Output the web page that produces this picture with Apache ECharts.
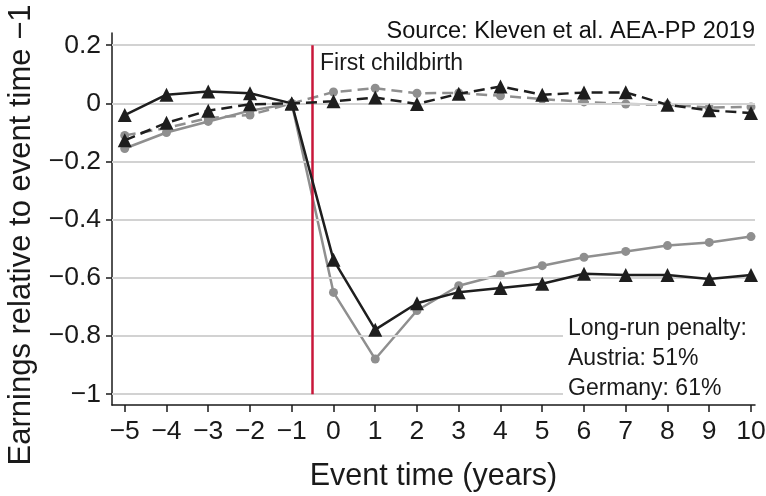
<!DOCTYPE html>
<html>
<head>
<meta charset="utf-8">
<script src="https://cdn.jsdelivr.net/npm/echarts@6/dist/echarts.min.js"></script>
<style>html,body{margin:0;padding:0;background:#fff}#c{width:766px;height:496px}</style>
</head>
<body>
<div id="c"></div>
<script>
const eventTimes = [-5,-4,-3,-2,-1,0,1,2,3,4,5,6,7,8,9,10];
const austriaWomen = [-0.155,-0.10,-0.062,-0.025,0,-0.65,-0.879,-0.712,-0.627,-0.589,-0.558,-0.529,-0.509,-0.489,-0.478,-0.458];
const germanyWomen = [-0.04,0.03,0.041,0.035,0,-0.538,-0.778,-0.687,-0.649,-0.635,-0.62,-0.586,-0.59,-0.59,-0.604,-0.59];
const austriaMen = [-0.11,-0.085,-0.05,-0.04,0,0.039,0.052,0.035,0.036,0.026,0.015,0.005,-0.002,-0.005,-0.014,-0.012];
const germanyMen = [-0.127,-0.067,-0.025,-0.003,0,0.007,0.02,-0.002,0.033,0.058,0.03,0.037,0.038,-0.005,-0.024,-0.033];
const yTicks = [0.2,0,-0.2,-0.4,-0.6,-0.8,-1];
const xTicks = [-5,-4,-3,-2,-1,0,1,2,3,4,5,6,7,8,9,10];
const childbirthTime = -0.5;
const penaltyLines = ['Long-run penalty:','Austria: 51%','Germany: 61%'];

const FONT = '"Liberation Sans", Arial, Helvetica, sans-serif';
const BLACK = '#1e1e1e', GREY = '#8f8f8f', RED = '#c8173a';
const fmt = v => (v === 0 ? '0' : String(v).replace('-', '\u2212'));
const pair = arr => eventTimes.map((t, i) => [t, arr[i]]);

function lineSeries(name, data, color, dashed, symbol, size, z) {
  return {
    name, type: 'line', data: pair(data), z,
    symbol, symbolSize: size, showSymbol: true,
    itemStyle: {color},
    lineStyle: {color, width: 2.5, type: dashed ? [11, 6] : 'solid'},
    emphasis: {disabled: true}, animation: false
  };
}

const chart = echarts.init(document.getElementById('c'), null, {renderer: 'canvas'});
chart.setOption({
  animation: false,
  backgroundColor: '#fff',
  grid: {left: 112, right: 11, top: 33, bottom: 91, containLabel: false, outerBoundsMode: 'none'},
  xAxis: {
    type: 'value', min: -5.305, max: 10.096,
    name: 'Event time (years)', nameLocation: 'middle', nameGap: 56,
    nameTextStyle: {fontFamily: FONT, fontSize: 30.5, color: '#1a1a1a'},
    axisLine: {show: true, onZero: false, lineStyle: {color: '#1a1a1a', width: 1.5}},
    axisTick: {show: true, length: 7, customValues: xTicks, lineStyle: {color: '#1a1a1a', width: 1.5}},
    axisLabel: {customValues: xTicks, formatter: fmt, fontFamily: FONT, fontSize: 26.5, color: '#1a1a1a', margin: 13},
    splitLine: {show: false}
  },
  yAxis: {
    type: 'value', min: -1.037, max: 0.242,
    axisLine: {show: true, onZero: false, lineStyle: {color: '#1a1a1a', width: 1.5}},
    axisTick: {show: true, length: 6, customValues: yTicks, lineStyle: {color: '#1a1a1a', width: 1.5}},
    axisLabel: {customValues: yTicks, formatter: fmt, fontFamily: FONT, fontSize: 26.5, color: '#1a1a1a', margin: 11},
    splitLine: {show: false}
  },
  series: [
    {
      type: 'line', data: [], z: 0, silent: true,
      markLine: {
        silent: true, symbol: 'none', animation: false,
        label: {show: false},
        lineStyle: {color: '#d2d2d2', width: 2, type: 'solid'},
        data: yTicks.map(v => ({yAxis: v}))
      }
    },
    lineSeries('Austria men', austriaMen, GREY, true, 'circle', 9, 3),
    lineSeries('Austria women', austriaWomen, GREY, false, 'circle', 9, 4),
    lineSeries('Germany men', germanyMen, BLACK, true, 'triangle', 14, 5),
    lineSeries('Germany women', germanyWomen, BLACK, false, 'triangle', 14, 6),
    {
      type: 'line', data: [], z: 8, silent: true,
      markLine: {
        silent: true, symbol: 'none', animation: false,
        label: {show: false},
        lineStyle: {color: RED, width: 2.5, type: 'solid'},
        data: [[{coord: [childbirthTime, yTicks[0]]}, {coord: [childbirthTime, yTicks[yTicks.length - 1]]}]]
      }
    }
  ],
  graphic: [
    {type: 'text', x: 21, y: 235, rotation: Math.PI / 2, z: 50,
     style: {text: 'Earnings relative to event time \u22121', font: '31px ' + FONT, fill: '#1a1a1a', align: 'center', verticalAlign: 'middle'}},
    {type: 'text', right: 11, top: 20, z: 50,
     style: {text: 'Source: Kleven et al. AEA-PP 2019', font: '23.5px ' + FONT, fill: '#111'}},
    {type: 'text', left: 320, top: 52, z: 50,
     style: {text: 'First childbirth', font: '23px ' + FONT, fill: '#1a1a1a'}},
    {type: 'rect', left: 563, top: 312, z: 40, shape: {width: 196, height: 90},
     style: {fill: '#fff'}},
    {type: 'text', left: 568, top: 314, z: 50,
     style: {text: penaltyLines.join('\n'), font: '23px ' + FONT, lineHeight: 30, fill: '#1a1a1a'}}
  ]
});
</script>
</body>
</html>
